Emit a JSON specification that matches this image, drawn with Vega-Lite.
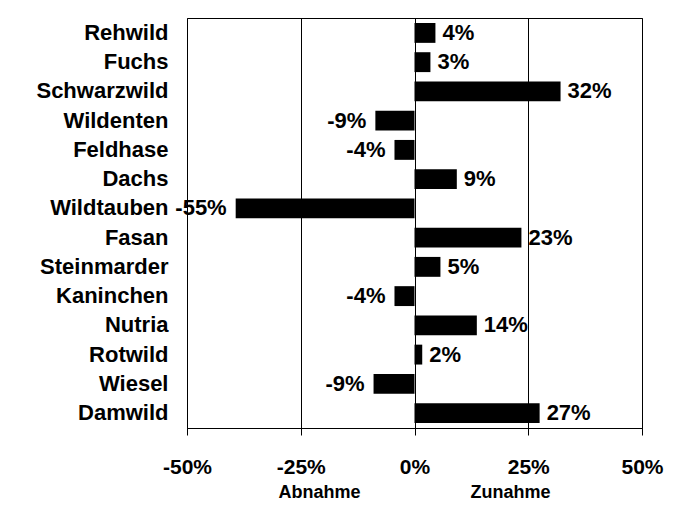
{
  "$schema": "https://vega.github.io/schema/vega-lite/v6.json",
  "width": 455,
  "height": 410,
  "autosize": {"type": "none"},
  "padding": {"left": 187, "top": 18, "right": 41, "bottom": 79},
  "background": "white",
  "config": {
    "font": "Liberation Sans",
    "view": {"stroke": "black", "strokeWidth": 1}
  },
  "data": {
    "values": [
      {"tier": "Rehwild", "bar": 0.046, "label": "4%"},
      {"tier": "Fuchs", "bar": 0.035, "label": "3%"},
      {"tier": "Schwarzwild", "bar": 0.321, "label": "32%"},
      {"tier": "Wildenten", "bar": -0.086, "label": "-9%"},
      {"tier": "Feldhase", "bar": -0.044, "label": "-4%"},
      {"tier": "Dachs", "bar": 0.093, "label": "9%"},
      {"tier": "Wildtauben", "bar": -0.393, "label": "-55%"},
      {"tier": "Fasan", "bar": 0.235, "label": "23%"},
      {"tier": "Steinmarder", "bar": 0.057, "label": "5%"},
      {"tier": "Kaninchen", "bar": -0.044, "label": "-4%"},
      {"tier": "Nutria", "bar": 0.137, "label": "14%"},
      {"tier": "Rotwild", "bar": 0.017, "label": "2%"},
      {"tier": "Wiesel", "bar": -0.09, "label": "-9%"},
      {"tier": "Damwild", "bar": 0.275, "label": "27%"}
    ]
  },
  "encoding": {
    "y": {
      "field": "tier",
      "type": "nominal",
      "sort": null,
      "scale": {"paddingInner": 0.32, "paddingOuter": 0.17},
      "axis": {
        "title": null,
        "domain": false,
        "ticks": false,
        "labelPadding": 19,
        "labelFontSize": 22,
        "labelFontWeight": "bold",
        "labelColor": "black"
      }
    }
  },
  "layer": [
    {
      "mark": {"type": "bar", "color": "black"},
      "encoding": {
        "x": {
          "field": "bar",
          "type": "quantitative",
          "scale": {"domain": [-0.5, 0.5], "nice": false, "zero": false},
          "axis": {
            "title": null,
            "orient": "bottom",
            "values": [-0.5, -0.25, 0, 0.25, 0.5],
            "labelExpr": "(datum.value < 0 ? '-' : '') + format(abs(datum.value), '.0%')",
            "labelFontSize": 21,
            "labelFontWeight": "bold",
            "labelColor": "black",
            "labelPadding": 21,
            "labelFlush": false,
            "tickColor": "black",
            "tickSize": 7,
            "domainColor": "black",
            "grid": true,
            "gridColor": "black",
            "gridOpacity": 1
          }
        }
      }
    },
    {
      "mark": {
        "type": "text",
        "fontSize": 22,
        "fontWeight": "bold",
        "color": "black",
        "baseline": "middle",
        "align": {"expr": "datum.bar < 0 ? 'right' : 'left'"},
        "dx": {"expr": "datum.bar < 0 ? -9 : 7"}
      },
      "encoding": {
        "x": {
          "field": "bar",
          "type": "quantitative",
          "axis": {
            "title": null,
            "orient": "bottom",
            "values": [-0.21, 0.21],
            "labelExpr": "datum.value < 0 ? 'Abnahme' : 'Zunahme'",
            "domain": false,
            "ticks": false,
            "grid": false,
            "labelFlush": false,
            "labelFontSize": 18,
            "labelFontWeight": "bold",
            "labelColor": "black",
            "labelPadding": 55
          }
        },
        "text": {"field": "label"}
      }
    }
  ],
  "resolve": {"axis": {"x": "independent"}}
}
